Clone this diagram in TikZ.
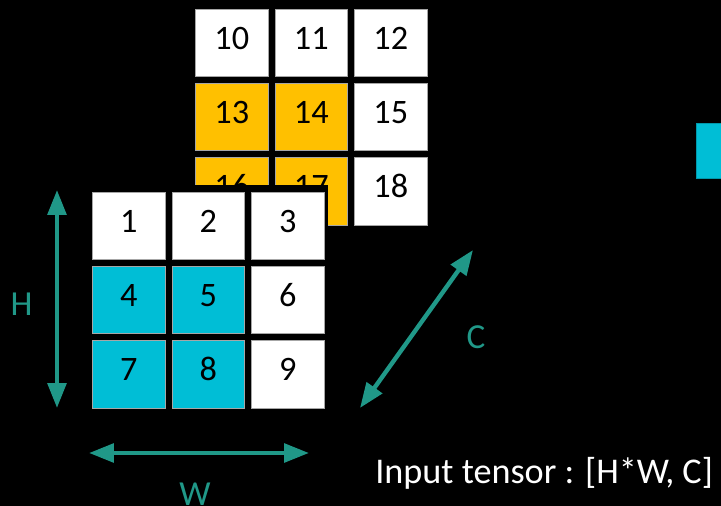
\documentclass[tikz,border=0pt]{standalone}
\usepackage{fontspec}
\setmainfont{Carlito}
\usetikzlibrary{arrows.meta,positioning}

\definecolor{dimteal}{RGB}{32,152,136}
\definecolor{cellcyan}{RGB}{0,190,214}
\definecolor{cellgold}{RGB}{255,192,0}

\tikzset{
    cell/.style={draw=black!35, line width=0.3pt, fill=white,
        minimum width=1.46cm, minimum height=1.35cm, inner sep=0pt,
        text depth=0.2cm, font=\fontsize{19.5}{20}\selectfont, text=black},
    dimarrow/.style={dimteal, line width=2.5pt,
        {Triangle[length=0.5cm,width=0.37cm]}-{Triangle[length=0.5cm,width=0.37cm]}},
    dimlabel/.style={text=dimteal, font=\fontsize{20}{20}\selectfont}
}

\begin{document}
\begin{tikzpicture}[x=0.02cm, y=-0.02cm, node distance=0.12cm and 0.12cm]

    \fill[black] (0,0) rectangle (721,506);
    \useasboundingbox (0,0) rectangle (721,506);
    \clip (0,0) rectangle (721,506);

    % second channel (behind)
    \node[cell, anchor=north west] (c10) at (195,9) {10};
    \node[cell, right=of c10] (c11) {11};
    \node[cell, right=of c11] (c12) {12};
    \node[cell, fill=cellgold, below=of c10] (c13) {13};
    \node[cell, fill=cellgold, right=of c13] (c14) {14};
    \node[cell, right=of c14] (c15) {15};
    \node[cell, fill=cellgold, below=of c13] (c16) {16};
    \node[cell, fill=cellgold, right=of c16] (c17) {17};
    \node[cell, right=of c17] (c18) {18};

    % black frame under the first channel
    \fill[black] (86,185) rectangle (328,412);

    % first channel (front)
    \node[cell, anchor=north west] (c1) at (92,192) {1};
    \node[cell, right=of c1] (c2) {2};
    \node[cell, right=of c2] (c3) {3};
    \node[cell, fill=cellcyan, below=of c1] (c4) {4};
    \node[cell, fill=cellcyan, right=of c4] (c5) {5};
    \node[cell, right=of c5] (c6) {6};
    \node[cell, fill=cellcyan, below=of c4] (c7) {7};
    \node[cell, fill=cellcyan, right=of c7] (c8) {8};
    \node[cell, right=of c8] (c9) {9};

    % dimension arrows
    \coordinate (Htop) at (57,190);
    \coordinate (Hbot) at (57,408);
    \coordinate (Wleft) at (89,453);
    \coordinate (Wright) at (309,453);
    \coordinate (Cbot) at (360,408);
    \coordinate (Ctop) at (473,250);

    \draw[dimarrow] (Htop) -- (Hbot);
    \draw[dimarrow] (Wleft) -- (Wright);
    \draw[dimarrow] (Cbot) -- (Ctop);

    \node[dimlabel] (H) at (21.5,304.5) {H};
    \node[dimlabel] (W) at (195,494) {W};
    \node[dimlabel] (C) at (476,337) {C};

    \node[anchor=base west, text=white, inner sep=0pt,
        font=\fontsize{20.6}{22}\selectfont] (caption) at (375,484)
        {Input tensor : [H*W, C]};

    % next block, cut off at the right edge
    \filldraw[fill=cellcyan, draw=cellcyan!80!black, line width=0.4pt]
        (696,123) rectangle (740,178);

\end{tikzpicture}
\end{document}
